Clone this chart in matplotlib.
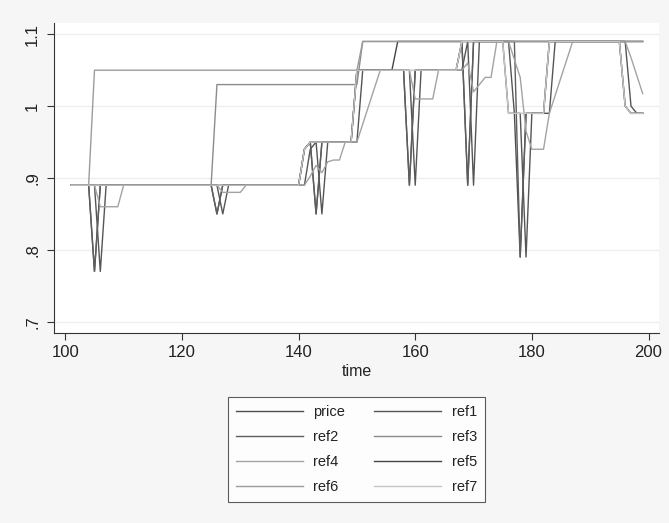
import matplotlib
matplotlib.use("Agg")
import matplotlib.pyplot as plt

# ---------------- data ----------------
time = list(range(101, 200))

price = ([0.89]*4 + [0.77] + [0.89]*20 + [0.85] + [0.89]*14 + [0.94, 0.95, 0.85]
         + [0.95]*6 + [1.05]*9 + [0.89] + [1.05]*8 + [1.09, 0.89] + [1.09]*6
         + [0.99]*2 + [0.79] + [0.99]*4 + [1.09]*13 + [1.00] + [0.99]*3)

ref1 = ([0.89]*5 + [0.77] + [0.89]*20 + [0.85] + [0.89]*14 + [0.94, 0.95, 0.85]
        + [0.95]*6 + [1.05]*9 + [0.89] + [1.05]*8 + [1.09, 0.89] + [1.09]*6
        + [0.99]*2 + [0.79] + [0.99]*4 + [1.09]*13 + [1.00] + [0.99]*2)

ref2 = ([0.89]*4 + [0.77] + [0.89]*20 + [0.85] + [0.89]*14 + [0.94, 0.95, 0.85]
        + [0.95]*6 + [1.05]*9 + [0.89] + [1.05]*8 + [1.09, 0.89] + [1.09]*6
        + [1.09]*2 + [0.79] + [0.99]*4 + [1.09]*13 + [1.00] + [0.99]*3)

ref3 = [0.89]*25 + [1.03]*25 + [1.09]*49

ref4 = ([0.89]*5 + [0.86]*4 + [0.89]*17 + [0.88]*4 + [0.89]*11
        + [0.9025, 0.9175, 0.9075, 0.9225, 0.925, 0.925, 0.95, 0.95, 0.95, 0.975, 1.0, 1.025]
        + [1.05]*6 + [1.01]*4 + [1.05]*5 + [1.06, 1.02, 1.03, 1.04, 1.04] + [1.09]*3
        + [1.065, 1.04, 0.965, 0.94, 0.94, 0.94, 0.99, 1.015, 1.04, 1.065]
        + [1.09]*10 + [1.0675, 1.0425, 1.0175])

ref5 = [0.89]*40 + [0.94] + [0.95]*8 + [1.05]*7 + [1.09]*43

ref6 = [0.89]*4 + [1.05]*46 + [1.09]*49

ref7 = ([0.89]*40 + [0.94] + [0.95]*8 + [1.05]*18 + [1.09]*8 + [0.99]*7
        + [1.09]*13 + [1.00] + [0.99]*3)

names = ["price", "ref1", "ref2", "ref3", "ref4", "ref5", "ref6", "ref7"]
series = [price, ref1, ref2, ref3, ref4, ref5, ref6, ref7]
colors = ["#4f4f4f", "#555555", "#5e5e5e", "#8c8c8c", "#a3a3a3", "#444444", "#9c9c9c", "#c6c6c6"]

xticks = [100, 120, 140, 160, 180, 200]
yticks = [0.7, 0.8, 0.9, 1.0, 1.1]
ytick_labels = [".7", ".8", ".9", "1", "1.1"]

# ---------------- figure ----------------
plt.rcParams["font.family"] = ["Liberation Sans", "DejaVu Sans"]
W, H = 669, 523
fig = plt.figure(figsize=(W/100, H/100), dpi=100, facecolor="#f6f6f6")
L, R, T, B = 54, 659, 23, 332.7
ax = fig.add_axes([L/W, 1-B/H, (R-L)/W, (B-T)/H])
ax.set_facecolor("white")

for i, (n, s, c) in enumerate(zip(names, series, colors)):
    ax.plot(time, s, color=c, lw=1.0, label=n, zorder=2+i)

ax.set_xlim(98.06, 201.8)
ax.set_ylim(0.6847, 1.1157)
ax.set_xticks(xticks)
ax.set_yticks(yticks)
ax.set_yticklabels(ytick_labels, rotation=90, va="center")
ax.tick_params(axis="both", length=5, width=0.8, color="#333333", labelsize=12,
               labelcolor="#222222")
ax.tick_params(axis="y", pad=5)
ax.tick_params(axis="x", pad=4)
ax.grid(axis="y", color="#efefef", lw=1.0, zorder=0)
ax.grid(axis="x", visible=False)
for sp in ["top", "right"]:
    ax.spines[sp].set_visible(False)
for sp in ["left", "bottom"]:
    ax.spines[sp].set_color("#333333")
    ax.spines[sp].set_linewidth(0.8)
ax.set_xlabel("time", fontsize=11.5, color="#222222", labelpad=3)

# legend: row-wise order like the reference
h, l = ax.get_legend_handles_labels()
order = [0, 2, 4, 6, 1, 3, 5, 7]
leg = fig.legend([h[i] for i in order], [l[i] for i in order], ncol=2,
                 loc="upper center", bbox_to_anchor=(356.5/W, 1-389.5/H),
                 fontsize=10.5, handlelength=4.6, handletextpad=0.72,
                 columnspacing=2.0, labelspacing=0.75, borderpad=0.55,
                 fancybox=False, frameon=True)
leg.get_frame().set_edgecolor("#333333")
leg.get_frame().set_linewidth(0.8)
leg.get_frame().set_facecolor("white")
for t in leg.get_texts():
    t.set_color("#222222")

fig.savefig("out.png", dpi=100, facecolor=fig.get_facecolor())
